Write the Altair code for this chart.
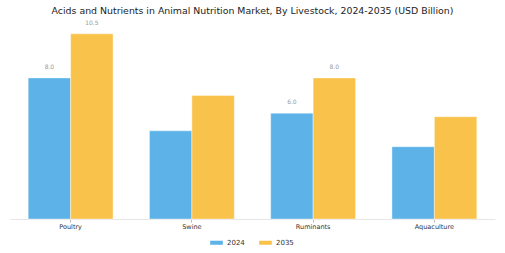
import altair as alt
import pandas as pd

categories = ["Poultry", "Swine", "Ruminants", "Aquaculture"]
years = ["2024", "2035"]
values_2024 = [8.0, 5.0, 6.0, 4.1]
values_2035 = [10.5, 7.0, 8.0, 5.8]
labels_2024 = ["8.0", "", "6.0", ""]
labels_2035 = ["10.5", "", "8.0", ""]

rows = []
for i, c in enumerate(categories):
    rows.append({"cat": c, "year": "2024", "value": values_2024[i], "label": labels_2024[i]})
    rows.append({"cat": c, "year": "2035", "value": values_2035[i], "label": labels_2035[i]})
df = pd.DataFrame(rows)

FONT = "DejaVu Sans"
colors = ["#5DB3E8", "#F9C34B"]

x = alt.X("cat:N", sort=categories, title=None,
          scale=alt.Scale(paddingInner=0.3, paddingOuter=0.15),
          axis=alt.Axis(labelAngle=0, labelFont=FONT, labelFontSize=6.5, labelColor="#333333",
                        domainColor="#e6e6e6", tickColor="#bbbbbb", tickSize=3, labelPadding=1))
y = alt.Y("value:Q", scale=alt.Scale(domain=[0, 11], nice=False), axis=None)
xo = alt.XOffset("year:N", sort=years, scale=alt.Scale(paddingInner=0))

bars = alt.Chart(df).mark_bar(stroke="white", strokeWidth=0.4).encode(
    x=x, y=y, xOffset=xo,
    color=alt.Color("year:N", sort=years, scale=alt.Scale(domain=years, range=colors),
                    legend=alt.Legend(title=None, orient="none", legendX=200, legendY=211,
                                      direction="horizontal",
                                      symbolType="M-1,-0.32H1V0.32H-1Z", symbolSize=160,
                                      symbolStrokeWidth=0, labelFont=FONT, labelFontSize=7,
                                      labelColor="#333333", columnPadding=14, symbolOffset=0)),
)

text = alt.Chart(df).mark_text(dy=-8, font=FONT, fontSize=6, color="#999999", baseline="bottom").encode(
    x=x, y=y, xOffset=xo, text="label:N"
)

chart = (bars + text).properties(
    width=485, height=194,
    padding={"left": 10, "right": 10, "top": 25, "bottom": 34},
    autosize=alt.AutoSizeParams(type="none"),
    title=alt.TitleParams("Acids and Nutrients in Animal Nutrition Market, By Livestock, 2024-2035 (USD Billion)",
                          font=FONT, fontSize=9.4, fontWeight="normal", color="#222222",
                          anchor="middle", offset=3),
).configure_view(stroke=None).configure_axis(grid=False)

chart.save("out.html", embed_options={"renderer": "svg", "actions": False})
